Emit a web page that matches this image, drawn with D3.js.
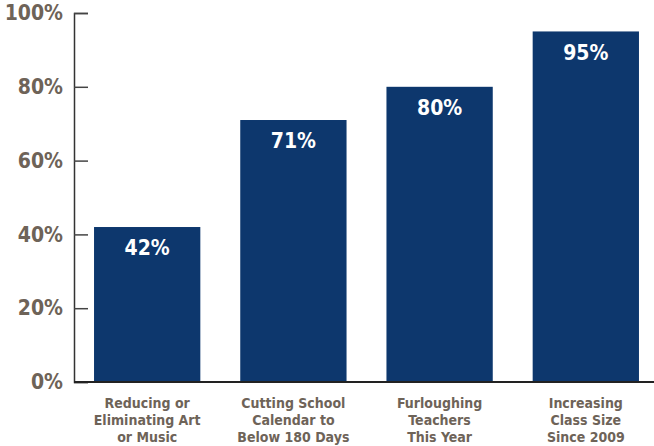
<!DOCTYPE html>
<html>
<head>
<meta charset="utf-8">
<script src="https://cdn.jsdelivr.net/npm/d3@7"></script>
<style>
  body { margin: 0; background: #fff; }
  svg text { font-family: "DejaVu Sans Condensed", "DejaVu Sans", sans-serif; font-stretch: condensed; font-weight: bold; }
</style>
</head>
<body>
<div id="chart"></div>
<script>

// chart data
var categories = [
    [ 'Reducing or', 'Eliminating Art', 'or Music' ],
    [ 'Cutting School', 'Calendar to', 'Below 180 Days' ],
    [ 'Furloughing', 'Teachers', 'This Year' ],
    [ 'Increasing', 'Class Size', 'Since 2009' ]
];
var values = [ 42, 71, 80, 95 ];
var yTicks = [ 0, 20, 40, 60, 80, 100 ];

var width = 654,
    height = 446;

var svg = d3.select('#chart').append('svg')
    .attr('width', width)
    .attr('height', height);

var x = d3.scaleBand()
    .domain( d3.range( values.length ) )
    .range([ 74, 659 ])
    .paddingInner( 0.273 )
    .paddingOuter( 0.137 );

var y = d3.scaleLinear()
    .domain([ 0, 100 ])
    .range([ 382, 13 ]);

// bars
svg.selectAll('.bar')
    .data( values )
    .enter().append('rect')
    .attr('class', 'bar')
    .attr('x', function ( d, i ) { return x( i ) })
    .attr('y', function ( d ) { return y( d ) })
    .attr('width', x.bandwidth())
    .attr('height', function ( d ) { return y( 0 ) - y( d ) })
    .style('fill', '#0d376d');

// value labels
svg.selectAll('.value')
    .data( values )
    .enter().append('text')
    .attr('class', 'value')
    .attr('x', function ( d, i ) { return x( i ) + x.bandwidth() / 2 })
    .attr('y', function ( d ) { return y( d ) + 21 })
    .attr('dy', '0.35em')
    .attr('text-anchor', 'middle')
    .style('fill', '#ffffff')
    .style('font-size', '21px')
    .text( function ( d ) { return d + '%' });

// y axis
var yAxis = d3.axisRight( y )
    .tickValues( yTicks )
    .tickSize( 14 )
    .tickFormat( function ( d ) { return d + '%' });

var gy = svg.append('g')
    .attr('transform', 'translate(74,0)')
    .call( yAxis );

gy.select('.domain').attr('stroke', '#333333').attr('stroke-width', 1.5);
gy.selectAll('.tick line').attr('stroke', '#444444').attr('stroke-width', 1.5);
gy.selectAll('.tick text')
    .attr('x', -11)
    .attr('text-anchor', 'end')
    .style('fill', '#6e6358')
    .style('font-size', '21px');

// baseline
svg.append('line')
    .attr('x1', 74)
    .attr('x2', width)
    .attr('y1', y( 0 ))
    .attr('y2', y( 0 ))
    .attr('stroke', '#222222')
    .attr('stroke-width', 2);

// category labels
var cat = svg.selectAll('.cat')
    .data( categories )
    .enter().append('text')
    .attr('class', 'cat')
    .attr('text-anchor', 'middle')
    .style('fill', '#6e6358')
    .style('font-size', '14px');

cat.selectAll('tspan')
    .data( function ( d, i ) { return d.map( function ( s ) { return { s: s, i: i } }) })
    .enter().append('tspan')
    .attr('x', function ( d ) { return x( d.i ) + x.bandwidth() / 2 })
    .attr('y', function ( d, j ) { return 408 + j * 17 })
    .text( function ( d ) { return d.s });

</script>
</body>
</html>
